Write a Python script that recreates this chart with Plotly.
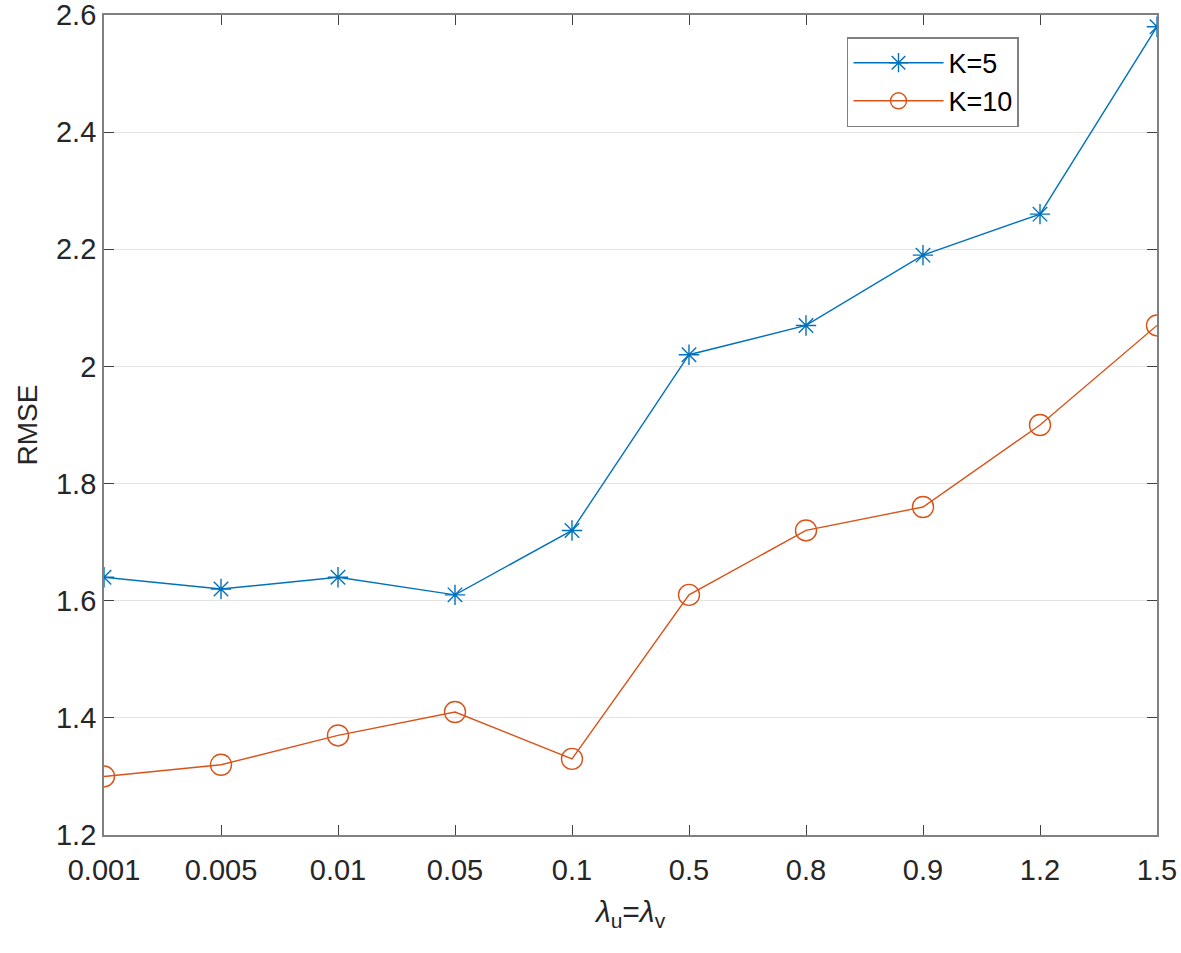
import plotly.graph_objects as go

lambdas = ["0.001", "0.005", "0.01", "0.05", "0.1", "0.5", "0.8", "0.9", "1.2", "1.5"]
rmse_k5 = [1.64, 1.62, 1.64, 1.61, 1.72, 2.02, 2.07, 2.19, 2.26, 2.58]
rmse_k10 = [1.30, 1.32, 1.37, 1.41, 1.33, 1.61, 1.72, 1.76, 1.90, 2.07]
y_ticks = [1.2, 1.4, 1.6, 1.8, 2.0, 2.2, 2.4, 2.6]
y_ticktext = ["1.2", "1.4", "1.6", "1.8", "2", "2.2", "2.4", "2.6"]

xpos = list(range(len(lambdas)))

fig = go.Figure()

fig.add_trace(go.Scatter(x=xpos, y=rmse_k5, name='K=5', mode='lines+markers',
                         line=dict(color='#0072BD', width=1.4),
                         marker=dict(symbol='asterisk-open', size=17,
                                     line=dict(color='#0072BD', width=1.4))))

fig.add_trace(go.Scatter(x=xpos, y=rmse_k10, name='K=10', mode='lines+markers',
                         line=dict(color='#D95319', width=1.4),
                         marker=dict(symbol='circle-open', size=21,
                                     line=dict(color='#D95319', width=1.4))))

axis_common = dict(showline=True, linecolor='#808080', linewidth=1.8, mirror='ticks',
                   ticks='inside', ticklen=10, tickcolor='#404040', tickwidth=1,
                   tickfont=dict(size=29, color='#262626'), zeroline=False,
                   automargin=False, ticklabeloverflow='allow')

fig.update_layout(
    width=1181, height=953,
    margin=dict(l=104, r=24, t=15, b=118),
    plot_bgcolor='white', paper_bgcolor='white',
    font=dict(family='Liberation Sans, Arial, sans-serif', color='#262626'),
    xaxis=dict(range=[0, 9], tickvals=xpos, ticktext=lambdas, showgrid=False,
               ticklabelstandoff=8,
               title=dict(text='<i>λ</i><sub>u</sub>=<i>λ</i><sub>v</sub>', font=dict(size=30), standoff=16),
               **axis_common),
    yaxis=dict(range=[1.2, 2.6], tickvals=y_ticks, ticktext=y_ticktext,
               showgrid=True, gridcolor='#e3e3e3', gridwidth=1,
               title=dict(text='RMSE', font=dict(size=28), standoff=10),
               **axis_common),
    legend=dict(x=0.7056, y=0.973, xanchor='left', yanchor='top',
                bgcolor='white', bordercolor='#808080', borderwidth=1.5,
                itemwidth=90,
                font=dict(size=27, color='#000000'), tracegroupgap=0),
)

# drop the page's default body margin so the figure fills the window exactly
fig.write_html("out.html", config=dict(displayModeBar=False),
               post_script="document.body.style.margin='0';document.body.style.overflow='hidden';")
